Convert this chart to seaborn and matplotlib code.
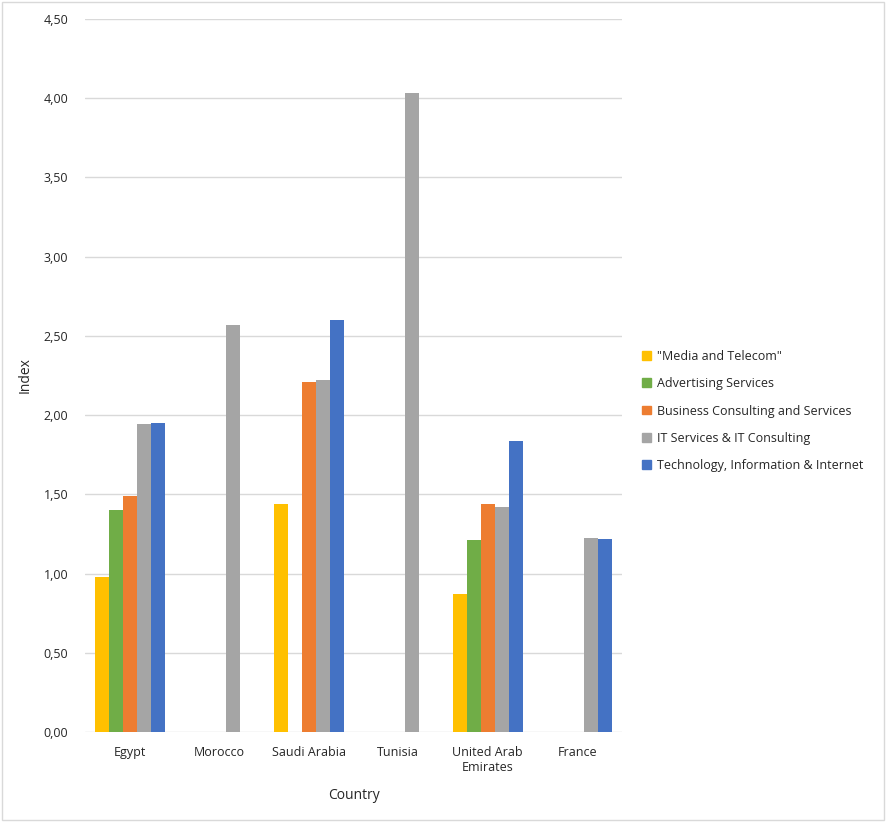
import numpy as np
import pandas as pd
import matplotlib.pyplot as plt
import matplotlib.patches as mpatches
from matplotlib.ticker import FuncFormatter
import seaborn as sns

countries = ['Egypt', 'Morocco', 'Saudi Arabia', 'Tunisia', 'United Arab\nEmirates', 'France']
sectors = ['"Media and Telecom"', 'Advertising Services', 'Business Consulting and Services',
           'IT Services & IT Consulting', 'Technology, Information & Internet']
colors = ['#FFC000', '#70AD47', '#ED7D31', '#A5A5A5', '#4472C4']

media = [0.98, np.nan, 1.44, np.nan, 0.87, np.nan]
advertising = [1.40, np.nan, np.nan, np.nan, 1.21, np.nan]
business = [1.49, np.nan, 2.21, np.nan, 1.44, np.nan]
it_services = [1.945, 2.57, 2.22, 4.03, 1.42, 1.225]
technology = [1.95, np.nan, 2.60, np.nan, 1.835, 1.22]

series = [media, advertising, business, it_services, technology]
rows = []
for sector, vals in zip(sectors, series):
    for c, v in zip(countries, vals):
        rows.append({'Country': c, 'Sector': sector, 'Index': v})
df = pd.DataFrame(rows)

sns.set_style('white')
plt.rcParams['font.family'] = ['Open Sans', 'DejaVu Sans']

fig = plt.figure(figsize=(8.86, 8.22), dpi=100)
ax = fig.add_axes([0.096, 0.1095, 0.606, 0.8675])

sns.barplot(data=df, x='Country', y='Index', hue='Sector', order=countries, hue_order=sectors,
            palette=colors, width=0.78, saturation=1, linewidth=0, ax=ax, legend=False)

ax.set_ylim(0, 4.5)
ax.set_yticks(np.arange(0, 4.51, 0.5))
ax.yaxis.set_major_formatter(FuncFormatter(lambda v, p: f'{v:.2f}'.replace('.', ',')))
ax.grid(axis='y', color='#D9D9D9', linewidth=1)
ax.set_axisbelow(True)
for s in ax.spines.values():
    s.set_visible(False)
ax.tick_params(axis='both', length=0, labelsize=9, colors='#262626')
ax.tick_params(axis='y', pad=12)
ax.tick_params(axis='x', pad=10)
ax.set_xlabel('Country', fontsize=10, color='#262626', labelpad=10)
ax.set_ylabel('Index', fontsize=10, color='#262626', labelpad=8)

handles = [mpatches.Patch(color=c, label=s) for c, s in zip(colors, sectors)]
fig.legend(handles=handles, loc='center left', bbox_to_anchor=(0.712, 0.5), frameon=False,
           fontsize=9, handlelength=0.7, handleheight=0.7, handletextpad=0.5, labelspacing=1.15,
           labelcolor='#262626')

fig.patches.append(mpatches.Rectangle((0.002, 0.002), 0.996, 0.996, transform=fig.transFigure,
                                      fill=False, edgecolor='#D9D9D9', linewidth=1))

fig.savefig('out.png', dpi=100)
